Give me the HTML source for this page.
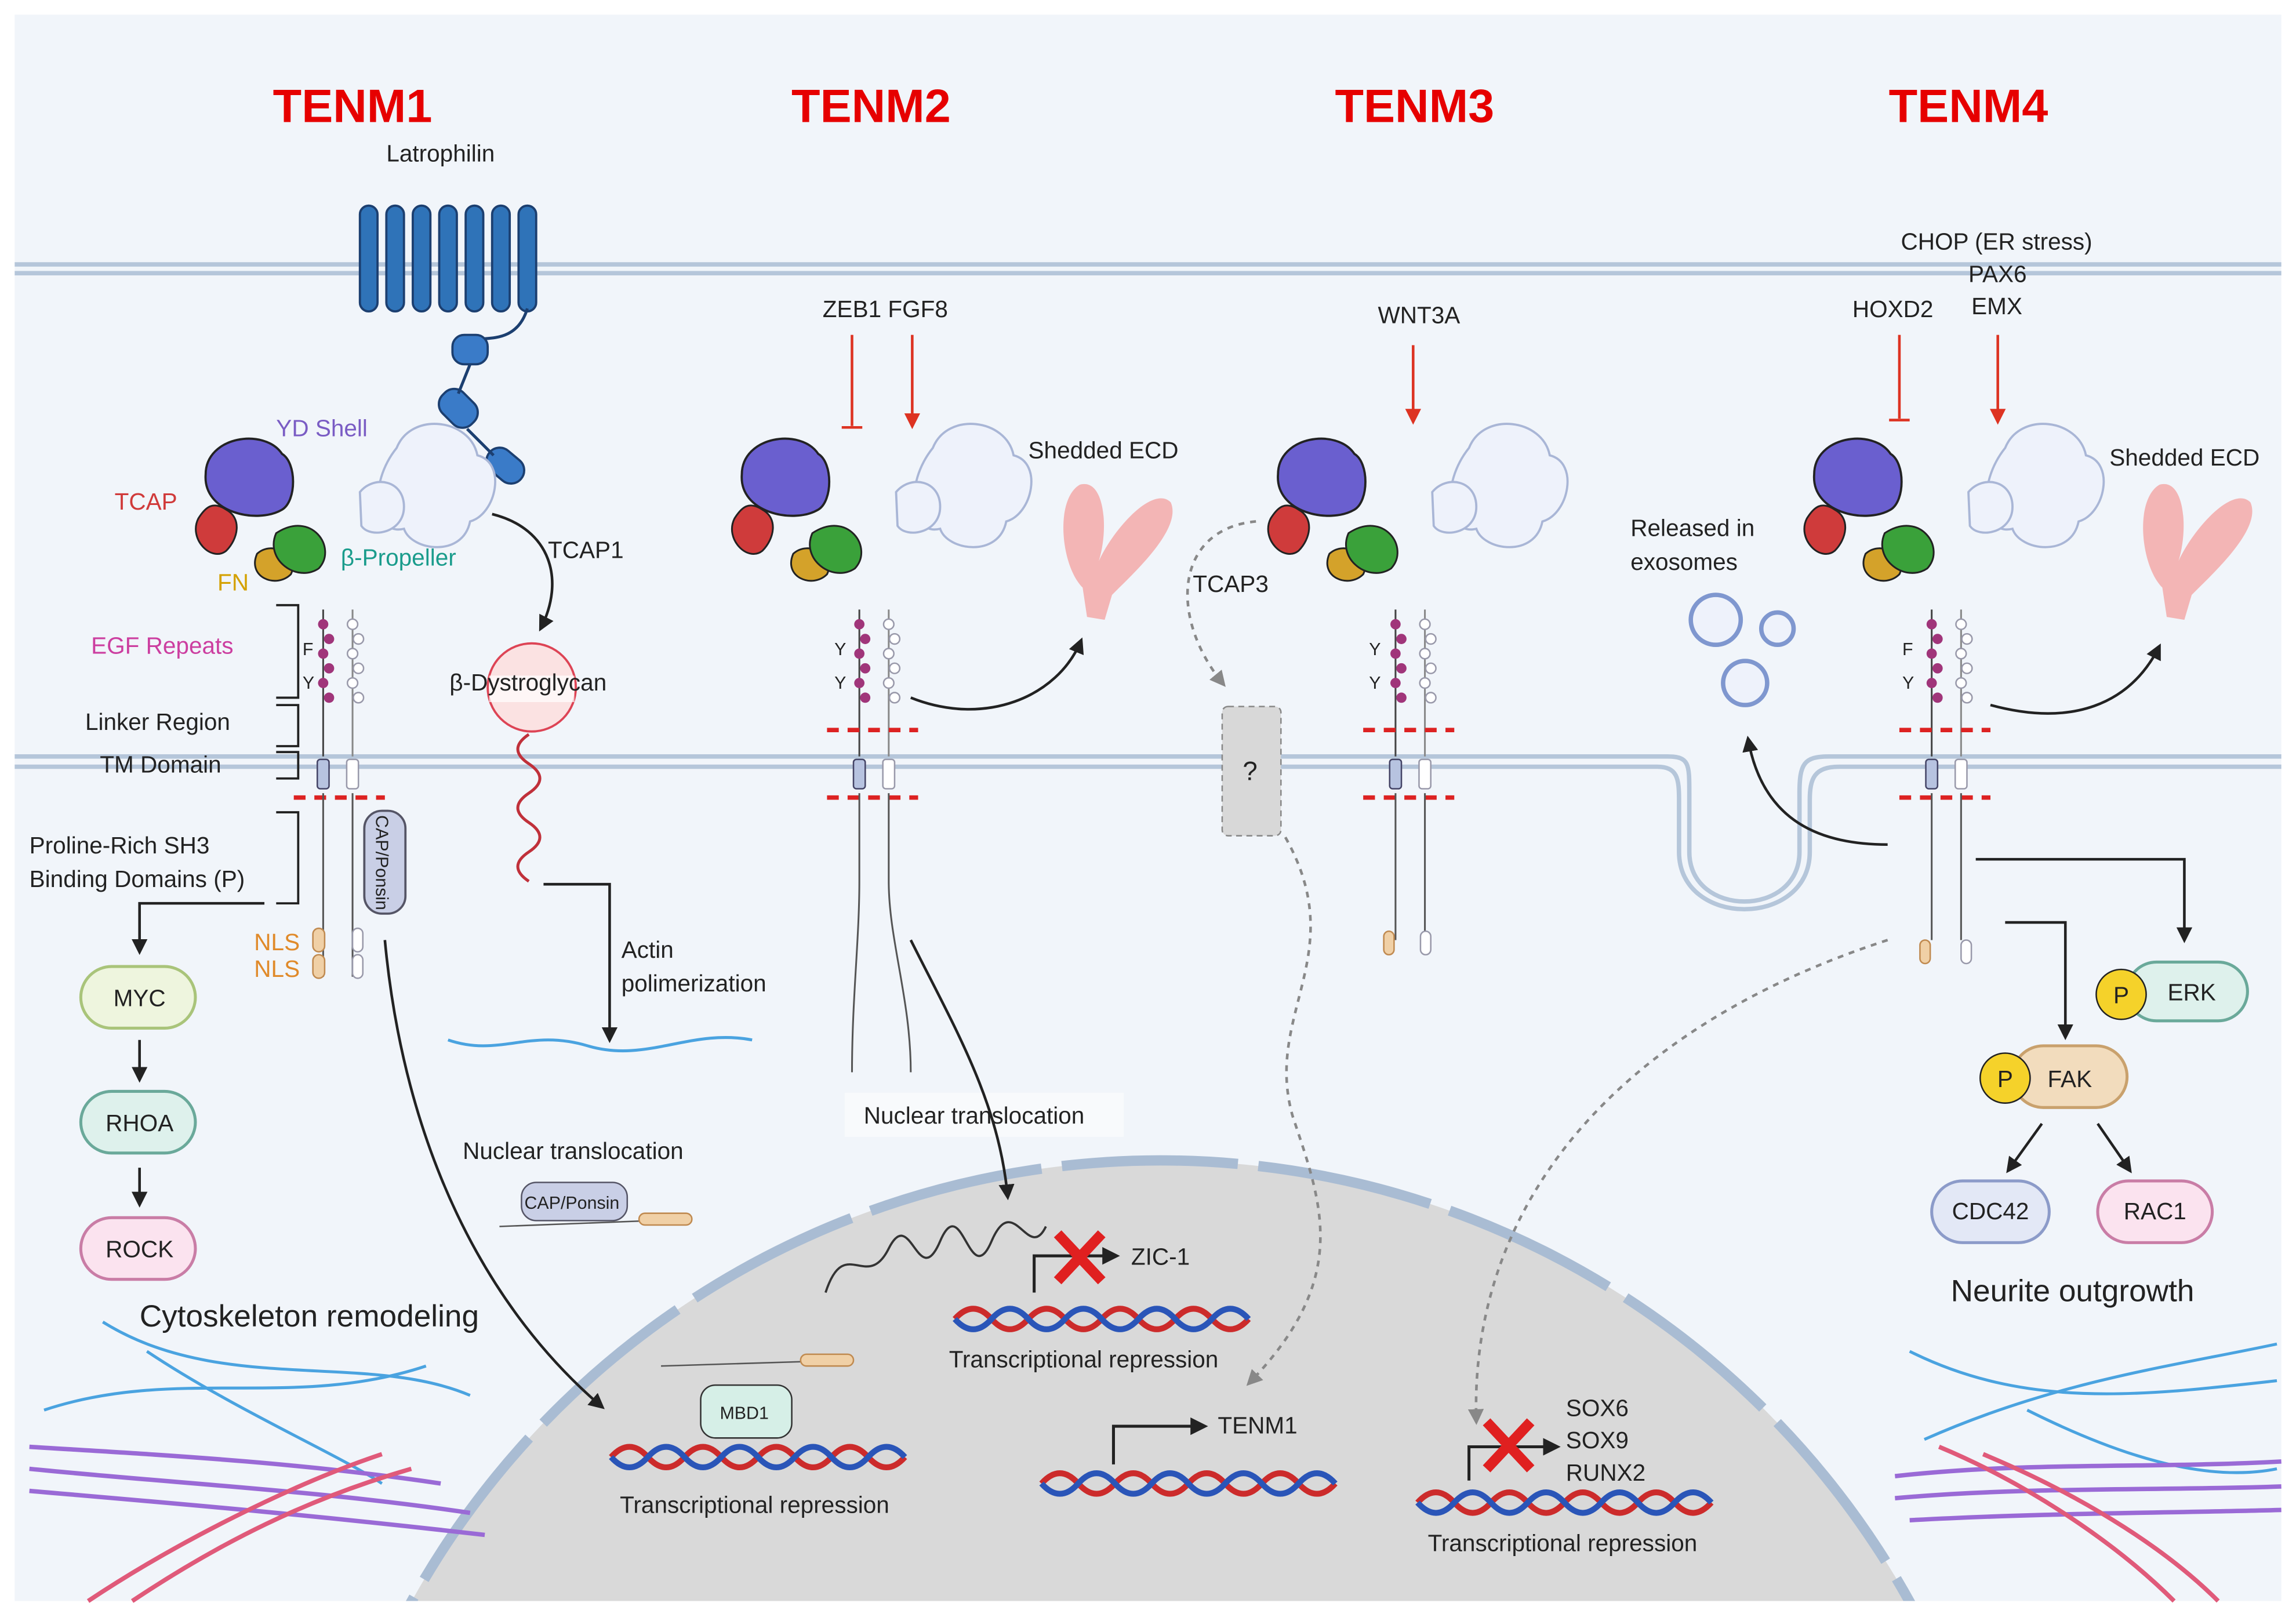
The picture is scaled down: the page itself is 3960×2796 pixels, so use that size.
<!DOCTYPE html>
<html><head><meta charset="utf-8"><style>
html,body{margin:0;padding:0;background:#fff;width:3960px;height:2796px;overflow:hidden;}
svg{display:block;}
text{font-family:"Liberation Sans",sans-serif;fill:#222;}
.red{fill:#e60000;font-weight:bold;font-size:32px;}
</style></head><body>
<svg width="3960" height="2796" viewBox="0 0 1563 1103.6" preserveAspectRatio="none" xmlns="http://www.w3.org/2000/svg">
<defs>
 <g id="ten">
  <path d="M50,-20 C60,-45 100,-40 105,-15 C125,-10 118,25 100,30 C95,55 60,50 55,35 C35,40 30,5 50,-20Z" fill="#eef2fb" stroke="#a9b6d6" stroke-width="1.5"/>
  <path d="M25,10 C35,-2 55,2 55,20 C55,38 32,42 26,33Z" fill="#eef2fb" stroke="#a9b6d6" stroke-width="1.5"/>
  <path d="M-80,-2 C-80,-28 -40,-34 -28,-16 C-18,-10 -18,16 -28,22 C-45,32 -82,24 -80,-2Z" fill="#6a5fcf" stroke="#222" stroke-width="1.5"/>
  <path d="M-45,52 C-52,68 -32,76 -22,66 C-16,54 -34,42 -45,52Z" fill="#d4a22a" stroke="#222" stroke-width="1.2"/>
  <path d="M-32,38 C-40,56 -18,72 -3,62 C10,48 -8,22 -32,38Z" fill="#3aa13a" stroke="#222" stroke-width="1.2"/>
  <path d="M-85,28 C-92,42 -76,58 -66,50 C-58,42 -55,28 -66,22 C-75,16 -80,20 -85,28Z" fill="#cf3b3b" stroke="#222" stroke-width="1.2"/>
  <path d="M0,90 L0,190" stroke="#444" stroke-width="1.2"/>
  <path d="M20,90 L20,190" stroke="#888" stroke-width="1.2"/>
  <g fill="#a0357a"><circle cx="0" cy="100" r="3.5"/><circle cx="4" cy="110" r="3.5"/><circle cx="0" cy="120" r="3.5"/><circle cx="4" cy="130" r="3.5"/><circle cx="0" cy="140" r="3.5"/><circle cx="4" cy="150" r="3.5"/></g>
  <g fill="#fff" stroke="#99a" stroke-width="1"><circle cx="20" cy="100" r="3.5"/><circle cx="24" cy="110" r="3.5"/><circle cx="20" cy="120" r="3.5"/><circle cx="24" cy="130" r="3.5"/><circle cx="20" cy="140" r="3.5"/><circle cx="24" cy="150" r="3.5"/></g>
  <rect x="-4" y="192" width="8" height="20" rx="2" fill="#b7c3e0" stroke="#446" stroke-width="1"/>
  <rect x="16" y="192" width="8" height="20" rx="2" fill="#fff" stroke="#99a" stroke-width="1"/>
 </g>
 <marker id="ar" viewBox="0 0 10 10" refX="8" refY="5" markerWidth="6" markerHeight="6" orient="auto"><path d="M0,0 L10,5 L0,10Z" fill="#222"/></marker>
 <marker id="arr" viewBox="0 0 10 10" refX="8" refY="5" markerWidth="6" markerHeight="6" orient="auto"><path d="M0,0 L10,5 L0,10Z" fill="#d32"/></marker>
 <marker id="arg" viewBox="0 0 10 10" refX="8" refY="5" markerWidth="6" markerHeight="6" orient="auto"><path d="M0,0 L10,5 L0,10Z" fill="#888"/></marker>
 <g id="dna">
  <path d="M0,0 q12.5,-14 25,0 t25,0 t25,0 t25,0 t25,0 t25,0 t25,0 t25,0" fill="none" stroke="#cc2b2b" stroke-width="4"/>
  <path d="M0,0 q12.5,14 25,0 t25,0 t25,0 t25,0 t25,0 t25,0 t25,0 t25,0" fill="none" stroke="#2a55b8" stroke-width="4"/>
 </g>
</defs>
<rect width="1563" height="1104" fill="#fff"/>
<rect x="10" y="10" width="1543" height="1080" fill="#f1f5fa"/>
<clipPath id="cp"><rect x="10" y="10" width="1543" height="1080"/></clipPath>
<g clip-path="url(#cp)">
<circle cx="790" cy="1373" r="583" fill="#d9d9d9"/>
<circle cx="790" cy="1373" r="583" fill="none" stroke="#a9bcd3" stroke-width="7" stroke-dasharray="120,14"/>
</g>
<g stroke="#b5c6da" stroke-width="3" fill="none">
 <line x1="10" y1="180" x2="1553" y2="180"/><line x1="10" y1="186" x2="1553" y2="186"/>
 <path d="M10,515 L1135,515 C1150,515 1150,520 1150,540 L1150,580 C1150,625 1225,625 1225,580 L1225,540 C1225,520 1228,515 1245,515 L1553,515"/>
 <path d="M10,522 L1128,522 C1142,522 1143,530 1143,545 L1143,580 C1143,632 1232,632 1232,580 L1232,545 C1232,530 1235,522 1252,522 L1553,522"/>
</g>
<text x="240" y="83" text-anchor="middle" class="red" style="fill:#e60000">TENM1</text>
<text x="593" y="83" text-anchor="middle" class="red" style="fill:#e60000">TENM2</text>
<text x="963" y="83" text-anchor="middle" class="red" style="fill:#e60000">TENM3</text>
<text x="1340" y="83" text-anchor="middle" class="red" style="fill:#e60000">TENM4</text>
<text x="263" y="110" font-size="16">Latrophilin</text>
<g fill="#2f73b8" stroke="#1c3f70" stroke-width="1.5">
 <rect x="245" y="140" width="12" height="72" rx="6"/><rect x="263" y="140" width="12" height="72" rx="6"/><rect x="281" y="140" width="12" height="72" rx="6"/><rect x="299" y="140" width="12" height="72" rx="6"/><rect x="317" y="140" width="12" height="72" rx="6"/><rect x="335" y="140" width="12" height="72" rx="6"/><rect x="353" y="140" width="12" height="72" rx="6"/>
</g>
<path d="M359,210 C350,240 320,225 320,235" stroke="#1c3f70" stroke-width="2" fill="none"/>
<g fill="#3a7bc8" stroke="#1c3f70" stroke-width="1.5">
 <rect x="308" y="228" width="24" height="20" rx="8"/>
 <rect x="298" y="268" width="28" height="20" rx="9" transform="rotate(45 312 278)"/>
 <rect x="330" y="308" width="28" height="18" rx="9" transform="rotate(40 344 317)"/>
</g>
<path d="M320,248 L312,268 M318,292 L336,310" stroke="#1c3f70" stroke-width="2"/>
<use href="#ten" transform="translate(220,325)"/>
<use href="#ten" transform="translate(585,325)"/>
<use href="#ten" transform="translate(950,325)"/>
<use href="#ten" transform="translate(1315,325)"/>
<g stroke="#d22" stroke-width="3" stroke-dasharray="8,6">
 <line x1="200" y1="543" x2="262" y2="543"/>
 <line x1="563" y1="497" x2="625" y2="497"/><line x1="563" y1="543" x2="625" y2="543"/>
 <line x1="928" y1="497" x2="990" y2="497"/><line x1="928" y1="543" x2="990" y2="543"/>
 <line x1="1293" y1="497" x2="1355" y2="497"/><line x1="1293" y1="543" x2="1355" y2="543"/>
</g>
<g fill="none" stroke="#555" stroke-width="1.2">
 <path d="M220,540 L220,665"/><path d="M240,540 L240,665"/>
 <path d="M585,540 L585,600 C585,640 580,680 580,730"/><path d="M605,540 L605,600 C605,640 620,680 620,730"/>
 <path d="M950,540 L950,640"/><path d="M970,540 L970,640"/>
 <path d="M1315,540 L1315,640"/><path d="M1335,540 L1335,640"/>
</g>
<g fill="#f0d0a6" stroke="#c08a50"><rect x="213" y="632" width="8" height="16" rx="4"/><rect x="213" y="650" width="8" height="16" rx="4"/><rect x="942" y="634" width="7" height="16" rx="3.5"/><rect x="1307" y="640" width="7" height="16" rx="3.5"/></g>
<g fill="#fff" stroke="#99a"><rect x="240" y="632" width="7" height="16" rx="3.5"/><rect x="240" y="650" width="7" height="16" rx="3.5"/><rect x="967" y="634" width="7" height="16" rx="3.5"/><rect x="1335" y="640" width="7" height="16" rx="3.5"/></g>
<rect x="248" y="552" width="28" height="70" rx="12" fill="#c9cfe6" stroke="#556" stroke-width="1.5"/>
<text x="256" y="555" font-size="12" transform="rotate(90 256 555)">CAP/Ponsin</text>
<circle cx="362" cy="468" r="30" fill="#fbe2e2" stroke="#d45" stroke-width="1.5"/>
<rect x="333" y="460" width="58" height="18" fill="#fff" opacity=".7"/>
<path d="M360,500 q-15,10 0,20 t0,20 t0,20 t0,20 t0,20" fill="none" stroke="#c0303a" stroke-width="2"/>
<g font-size="16">
<text x="188" y="297" style="fill:#7a5cc4">YD Shell</text>
<text x="78" y="347" style="fill:#d03a3a">TCAP</text>
<text x="232" y="385" style="fill:#1a9c8c">β-Propeller</text>
<text x="148" y="402" style="fill:#d4a100">FN</text>
<text x="62" y="445" style="fill:#cc3ea0">EGF Repeats</text>
<text x="58" y="497">Linker Region</text>
<text x="68" y="526">TM Domain</text>
<text x="20" y="581">Proline-Rich SH3</text>
<text x="20" y="604">Binding Domains (P)</text>
<text x="173" y="647" style="fill:#e08a2a">NLS</text><text x="173" y="665" style="fill:#e08a2a">NLS</text>
<text x="373" y="380">TCAP1</text>
<text x="306" y="470">β-Dystroglycan</text>
<text x="423" y="652">Actin</text><text x="423" y="675">polimerization</text>
<text x="315" y="789">Nuclear translocation</text>
<text x="560" y="216">ZEB1 FGF8</text>
<text x="700" y="312">Shedded ECD</text>
<text x="812" y="403">TCAP3</text>
<text x="938" y="220">WNT3A</text>
<text x="1294" y="170">CHOP (ER stress)</text>
<text x="1340" y="192">PAX6</text>
<text x="1342" y="214">EMX</text>
<text x="1261" y="216">HOXD2</text>
<text x="1436" y="317">Shedded ECD</text>
<text x="1110" y="365">Released in</text><text x="1110" y="388">exosomes</text>
<text x="646" y="931">Transcriptional repression</text>
<text x="422" y="1030">Transcriptional repression</text>
<text x="972" y="1056">Transcriptional repression</text>
<text x="770" y="861">ZIC-1</text>
<text x="829" y="976">TENM1</text>
<text x="1066" y="964">SOX6</text><text x="1066" y="986">SOX9</text><text x="1066" y="1008">RUNX2</text>
</g>
<g font-size="12"><text x="568" y="446">Y</text><text x="568" y="469">Y</text><text x="932" y="446">Y</text><text x="932" y="469">Y</text><text x="206" y="446">F</text><text x="206" y="469">Y</text><text x="1295" y="446">F</text><text x="1295" y="469">Y</text></g>
<g fill="none" stroke="#222" stroke-width="1.5">
 <path d="M188,412 L203,412 L203,475 L188,475"/>
 <path d="M188,480 L203,480 L203,508 L188,508"/>
 <path d="M188,512 L203,512 L203,530 L188,530"/>
 <path d="M188,553 L203,553 L203,615 L188,615"/>
</g>
<rect x="575" y="744" width="190" height="30" fill="#f8fafc"/>
<text x="588" y="765" font-size="16">Nuclear translocation</text>
<g fill="none" stroke="#222" stroke-width="1.8" marker-end="url(#ar)">
 <path d="M335,350 C375,360 385,395 368,428"/>
 <path d="M370,602 L415,602 L415,708"/>
 <path d="M180,615 L95,615 L95,648"/>
 <line x1="95" y1="708" x2="95" y2="735"/>
 <line x1="95" y1="795" x2="95" y2="820"/>
 <path d="M262,640 C275,780 330,890 410,958"/>
 <path d="M620,640 C650,700 680,750 686,815"/>
 <path d="M620,475 C670,495 720,475 736,436"/>
 <path d="M1355,480 C1410,495 1450,480 1470,440"/>
 <path d="M1285,575 C1240,575 1200,560 1190,503"/>
 <path d="M1365,628 L1406,628 L1406,706"/>
 <path d="M1345,585 L1487,585 L1487,640"/>
 <line x1="1390" y1="765" x2="1367" y2="797"/>
 <line x1="1428" y1="765" x2="1450" y2="797"/>
</g>
<g stroke="#d32" stroke-width="1.8" fill="none">
 <line x1="580" y1="228" x2="580" y2="290"/><line x1="573" y1="291" x2="587" y2="291"/>
 <line x1="621" y1="228" x2="621" y2="290" marker-end="url(#arr)"/>
 <line x1="962" y1="235" x2="962" y2="287" marker-end="url(#arr)"/>
 <line x1="1293" y1="228" x2="1293" y2="285"/><line x1="1286" y1="286" x2="1300" y2="286"/>
 <line x1="1360" y1="228" x2="1360" y2="287" marker-end="url(#arr)"/>
</g>
<g stroke="#888" stroke-width="1.8" fill="none" stroke-dasharray="4,4">
 <path d="M855,355 C800,360 795,420 833,466" marker-end="url(#arg)"/>
 <path d="M875,570 C920,650 860,690 880,760 C900,820 920,870 850,942" marker-end="url(#arg)"/>
 <path d="M1285,640 C1100,700 1000,820 1005,968" marker-end="url(#arg)"/>
</g>
<rect x="832" y="481" width="40" height="88" rx="4" fill="#d8d8d8" stroke="#888" stroke-dasharray="4,3"/>
<text x="846" y="531" font-size="18">?</text>
<g fill="#f3b5b5">
 <path d="M740,420 L737,400 C722,385 718,340 735,330 C752,325 755,360 748,382 C758,360 785,330 797,342 C805,360 772,390 757,405 L752,422Z"/>
 <path d="M1475,420 L1472,400 C1457,385 1453,340 1470,330 C1487,325 1490,360 1483,382 C1493,360 1520,330 1532,342 C1540,360 1507,390 1492,405 L1487,422Z"/>
</g>
<g fill="#eef2fb" stroke="#7f97cf" stroke-width="3"><circle cx="1168" cy="422" r="17"/><circle cx="1210" cy="428" r="11"/><circle cx="1188" cy="465" r="15"/></g>
<g font-size="16" text-anchor="middle">
 <rect x="55" y="658" width="78" height="42" rx="21" fill="#eef5de" stroke="#a9c47a" stroke-width="2"/><text x="95" y="685">MYC</text>
 <rect x="55" y="743" width="78" height="42" rx="21" fill="#def1ec" stroke="#6aa99a" stroke-width="2"/><text x="95" y="770">RHOA</text>
 <rect x="55" y="829" width="78" height="42" rx="21" fill="#fbe3ef" stroke="#c97da6" stroke-width="2"/><text x="95" y="856">ROCK</text>
 <rect x="1448" y="655" width="82" height="40" rx="20" fill="#def1ec" stroke="#6aa99a" stroke-width="2"/><text x="1492" y="681">ERK</text>
 <circle cx="1444" cy="677" r="17" fill="#f5d22a" stroke="#222"/><text x="1444" y="683">P</text>
 <rect x="1370" y="712" width="78" height="42" rx="21" fill="#f2dcbd" stroke="#c9a16d" stroke-width="2"/><text x="1409" y="740">FAK</text>
 <circle cx="1365" cy="734" r="17" fill="#f5d22a" stroke="#222"/><text x="1365" y="740">P</text>
 <rect x="1315" y="804" width="80" height="42" rx="21" fill="#e3e8f6" stroke="#8c9bc9" stroke-width="2"/><text x="1355" y="830">CDC42</text>
 <rect x="1428" y="804" width="78" height="42" rx="21" fill="#fbe3ef" stroke="#c97da6" stroke-width="2"/><text x="1467" y="830">RAC1</text>
</g>
<text x="95" y="903" font-size="21">Cytoskeleton remodeling</text>
<text x="1328" y="886" font-size="21">Neurite outgrowth</text>
<path d="M305,708 C340,720 360,700 400,712 C440,724 470,700 512,708" stroke="#4aa3e0" stroke-width="2" fill="none"/>
<rect x="355" y="805" width="72" height="26" rx="10" fill="#c9cfe6" stroke="#556"/>
<text x="357" y="823" font-size="12">CAP/Ponsin</text>
<path d="M340,835 L470,830" stroke="#555"/>
<rect x="435" y="826" width="36" height="8" rx="4" fill="#f0d0a6" stroke="#c08a50"/>
<path d="M450,930 L580,926" stroke="#555"/>
<rect x="545" y="922" width="36" height="8" rx="4" fill="#f0d0a6" stroke="#c08a50"/>
<rect x="477" y="943" width="62" height="36" rx="10" fill="#d6efe7" stroke="#333"/>
<text x="490" y="966" font-size="12">MBD1</text>
<use href="#dna" transform="translate(650,898)"/>
<use href="#dna" transform="translate(416,992)"/>
<use href="#dna" transform="translate(709,1010)"/>
<use href="#dna" transform="translate(965,1023)"/>
<g fill="none" stroke="#222" stroke-width="2">
 <path d="M704,880 L704,855 L760,855" marker-end="url(#ar)"/>
 <path d="M758,997 L758,971 L820,971" marker-end="url(#ar)"/>
 <path d="M1000,1008 L1000,985 L1060,985" marker-end="url(#ar)"/>
</g>
<g stroke="#e02020" stroke-width="7"><path d="M720,840 L750,872 M750,840 L720,872"/><path d="M1012,968 L1042,1000 M1042,968 L1012,1000"/></g>
<path d="M562,880 C575,840 590,880 605,850 S625,880 640,845 S660,880 675,845 S700,860 712,835" stroke="#333" stroke-width="1.5" fill="none"/>
<g fill="none" stroke-width="2">
 <g stroke="#4aa3e0"><path d="M70,900 C150,950 250,920 320,950"/><path d="M30,960 C120,930 200,960 290,930"/><path d="M100,920 C160,960 230,990 260,1010"/>
 <path d="M1300,920 C1380,960 1460,950 1550,940"/><path d="M1310,980 C1400,940 1480,930 1550,915"/><path d="M1380,960 C1440,990 1500,1010 1550,1000"/></g>
 <g stroke="#9a6ad6" stroke-width="3"><path d="M20,985 C100,990 200,995 300,1010"/><path d="M20,1000 C120,1010 220,1015 320,1030"/><path d="M20,1015 C100,1022 200,1030 330,1045"/>
 <path d="M1290,1005 C1380,995 1460,1000 1553,995"/><path d="M1290,1020 C1380,1012 1470,1015 1553,1012"/><path d="M1300,1035 C1390,1030 1480,1030 1553,1028"/></g>
 <g stroke="#e05a7a" stroke-width="3"><path d="M60,1090 C120,1050 200,1010 260,990"/><path d="M90,1090 C150,1050 210,1020 280,1000"/>
 <path d="M1480,1090 C1440,1050 1380,1010 1320,985"/><path d="M1510,1090 C1470,1050 1410,1015 1350,990"/></g>
</g>
</svg>
</body></html>
